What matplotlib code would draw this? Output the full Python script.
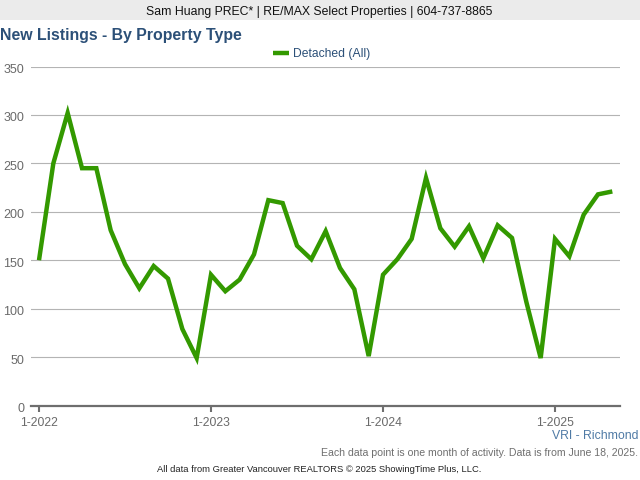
import matplotlib
matplotlib.use("Agg")
import matplotlib.pyplot as plt
from matplotlib.patches import Rectangle
from matplotlib.transforms import ScaledTranslation

plt.rcParams['font.family'] = ['Liberation Sans', 'DejaVu Sans']

months = list(range(41))
detached = [150, 250, 302, 245, 245, 181, 146, 121, 144, 131, 79, 49,
            135, 118, 130, 156, 212, 209, 165, 151, 180, 142, 120, 51,
            135, 151, 172, 235, 183, 164, 185, 152, 186, 173, 107, 49,
            172, 154, 197, 218, 221]
y_ticks = [0, 50, 100, 150, 200, 250, 300, 350]
x_ticks = [0, 12, 24, 36]
x_labels = ['1-2022', '1-2023', '1-2024', '1-2025']
series_name = 'Detached (All)'

W, H = 640, 480
fig = plt.figure(figsize=(6.4, 4.8), dpi=100)
L, R, T, B = 31, 620, 66.5, 405.5
ax = fig.add_axes([L / W, 1 - B / H, (R - L) / W, (B - T) / H])

px_per_month = (555 - 39) / 36
ax.set_xlim(-(39 - L) / px_per_month, (R - 39) / px_per_month)
ax.set_ylim(0, 350)
ax.plot(months, detached, color='#339900', lw=3.2, solid_joinstyle='miter',
        solid_capstyle='butt', zorder=3, clip_on=False)

for s in ['top', 'left', 'right']:
    ax.spines[s].set_visible(False)
ax.spines['bottom'].set_color('#6e6e6e')
ax.spines['bottom'].set_linewidth(1.6)
ax.set_yticks(y_ticks)
ax.set_xticks(x_ticks)
ax.set_xticklabels(x_labels)
ax.yaxis.grid(True, color='#b4b4b4', lw=0.8)
ax.set_axisbelow(True)
ax.tick_params(axis='y', length=0, pad=5, labelsize=9, labelcolor='#6a6a6a')
shift = ScaledTranslation(0, -2 / 100, fig.dpi_scale_trans)
for lab in ax.get_yticklabels():
    lab.set_transform(lab.get_transform() + shift)
ax.tick_params(axis='x', length=4, width=1.5, color='#6e6e6e', pad=4.5,
               labelsize=8.7, labelcolor='#6a6a6a')

# header band
fig.add_artist(Rectangle((0, 1 - 20 / H), 1, 20 / H, transform=fig.transFigure,
                         facecolor='#ebebeb', edgecolor='none'))
def t(x, y, s, **kw):
    fig.text(x / W, 1 - y / H, s, va='center', **kw)

t(319.5, 11.5, 'Sam Huang PREC* | RE/MAX Select Properties | 604-737-8865',
  ha='center', fontsize=8.8, color='#111111')
t(0, 35.5, 'New Listings - By Property Type', ha='left', fontsize=11.4,
  fontweight='bold', color='#2c5078')

# legend
h, = ax.plot([], [], color='#339900', lw=3.2, solid_capstyle='butt')
leg = fig.legend([h], [series_name], loc='center', bbox_to_anchor=(321.5 / W, 1 - 54.5 / H),
                 frameon=False, fontsize=8.75, labelcolor='#2c5078', handlelength=1.3,
                 handletextpad=0.33, borderpad=0, borderaxespad=0)

t(639, 436, 'VRI - Richmond', ha='right', fontsize=8.8, color='#4f7aa5')
t(638, 452.5, 'Each data point is one month of activity. Data is from June 18, 2025.',
  ha='right', fontsize=7.6, color='#6f6f6f')
t(319, 470, 'All data from Greater Vancouver REALTORS \u00a9 2025 ShowingTime Plus, LLC.',
  ha='center', fontsize=6.75, color='#222222')

fig.savefig('out.png', dpi=100)
